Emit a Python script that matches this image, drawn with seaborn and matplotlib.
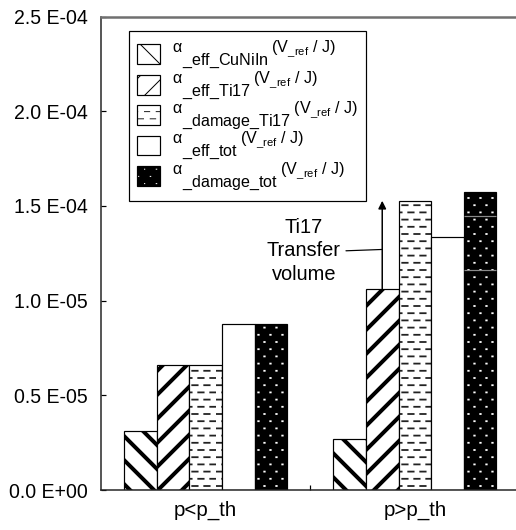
import numpy as np
import pandas as pd
import matplotlib
matplotlib.use("Agg")
import matplotlib.pyplot as plt
import matplotlib.hatch as mhatch
from matplotlib.path import Path
from matplotlib.colors import to_rgba
import seaborn as sns

# values in units of 1E-04
categories = ["p<p_th", "p>p_th"]
series = ["eff_CuNiIn", "eff_Ti17", "damage_Ti17", "eff_tot", "damage_tot"]
alpha_eff_CuNiIn = [0.313, 0.270]
alpha_eff_Ti17 = [0.661, 1.061]
alpha_damage_Ti17 = [0.661, 1.527]
alpha_eff_tot = [0.876, 1.336]
alpha_damage_tot = [0.876, 1.575]
damage_tot_marks = [1.163, 1.448]  # thin grey lines inside the p>p_th damage_tot bar
y_ticks = [0.0, 0.5, 1.0, 1.5, 2.0, 2.5]
y_ticklabels = ["0.0 E+00", "0.5 E-05", "1.0 E-05", "1.5 E-04", "2.0 E-04", "2.5 E-04"]

df = pd.DataFrame({
    "category": categories * len(series),
    "series": np.repeat(series, len(categories)),
    "value": alpha_eff_CuNiIn + alpha_eff_Ti17 + alpha_damage_Ti17 + alpha_eff_tot + alpha_damage_tot,
})


# staggered dash / dot fill patterns (Excel style), registered as hatch types
class StaggeredMarks(mhatch.HatchPatternBase):
    char, rows, cols, length = "O", 10, 6, 0.45

    def __init__(self, hatch, density):
        self.num_vertices = 2 * self.rows * self.cols if self.char in hatch else 0

    def set_vertices_and_codes(self, vertices, codes):
        k = 0
        for r in range(self.rows):
            y = (r + 0.5) / self.rows
            shift = 0.5 / self.cols if r % 2 else 0.0
            for c in range(self.cols):
                x0 = c / self.cols + shift + 0.02 / self.cols
                vertices[k] = (x0, y)
                vertices[k + 1] = (x0 + self.length / self.cols, y)
                codes[k] = Path.MOVETO
                codes[k + 1] = Path.LINETO
                k += 2


class Dashes(StaggeredMarks):
    char, length = "O", 0.45


class Dots(StaggeredMarks):
    char, length = "o", 0.04


mhatch._hatch_types = [t for t in mhatch._hatch_types
                       if t not in (mhatch.SmallCircles, mhatch.LargeCircles)] + [Dashes, Dots]

plt.rcParams["font.family"] = "Liberation Sans"
plt.rcParams["mathtext.fontset"] = "custom"
plt.rcParams["mathtext.rm"] = "Liberation Sans"
plt.rcParams["mathtext.it"] = "Liberation Sans:italic"
plt.rcParams["mathtext.bf"] = "Liberation Sans:bold"

fig = plt.figure(figsize=(516 / 72, 530 / 72), dpi=72)
ax = fig.add_axes([101 / 516, 40 / 530, 418.5 / 516, 473.5 / 530])

face = {"eff_CuNiIn": "white", "eff_Ti17": "white", "damage_Ti17": "white",
        "eff_tot": "white", "damage_tot": "black"}
sns.barplot(data=df, x="category", y="value", hue="series", hue_order=series,
            order=categories, palette=face, saturation=1, width=0.78,
            edgecolor="black", linewidth=1.2, legend=False, ax=ax)

# hatch, hatch colour, hatch linewidth per series
styles = {"eff_CuNiIn": ("\\", "black", 4.0), "eff_Ti17": ("/", "black", 4.0),
          "damage_Ti17": ("O", "#222222", 1.8), "eff_tot": ("", "black", 1.0),
          "damage_tot": ("o", "white", 1.8)}
for name, cont in zip(series, ax.containers):
    h, hc, hlw = styles[name]
    for p in cont.patches:
        p.set_hatch(h)
        if hasattr(p, "set_hatchcolor"):
            p.set_hatchcolor(hc)
        else:
            p._hatch_color = to_rgba(hc)
        if hasattr(p, "set_hatch_linewidth"):
            p.set_hatch_linewidth(hlw)
        else:
            p._hatch_linewidth = hlw

# grey lines inside the second damage_tot bar
bar = ax.containers[4].patches[1]
ax.hlines(damage_tot_marks, bar.get_x() + 1e-3, bar.get_x() + bar.get_width() - 1e-3,
          colors="#8a8a8a", linewidth=1.2, zorder=3)

# Ti17 transfer volume arrow
ti17 = ax.containers[1].patches[1]
xa = ti17.get_x() + ti17.get_width() / 2
ax.annotate("", xy=(xa, alpha_damage_Ti17[1]), xytext=(xa, alpha_eff_Ti17[1]),
            arrowprops=dict(arrowstyle="-|>", color="black", lw=1.5,
                            mutation_scale=16, shrinkA=0, shrinkB=0))
ax.annotate("Ti17\nTransfer\nvolume", xy=(xa, 1.27), xytext=(0.47, 1.262),
            ha="center", va="center", fontsize=20, linespacing=1.28,
            arrowprops=dict(arrowstyle="-", color="black", lw=1.2,
                            relpos=(1, 0.5), shrinkA=3, shrinkB=0))

ax.set_xlim(-0.5, 1.5)
ax.set_ylim(0, 2.5)
ax.set_yticks(y_ticks)
ax.set_yticklabels(y_ticklabels)
ax.set_xticks([0, 1])
ax.set_xticklabels(categories)
ax.set_xticks([0.5], minor=True)
ax.tick_params(axis="y", direction="in", length=5, width=1.2, pad=13, labelsize=19.5)
ax.tick_params(axis="x", which="major", length=0, pad=11, labelsize=20.5)
ax.tick_params(axis="x", which="minor", direction="in", length=5, width=1.2)
ax.set_xlabel("")
ax.set_ylabel("")
for s in ["left", "bottom"]:
    ax.spines[s].set_color("#222222")
    ax.spines[s].set_linewidth(1.5)
ax.spines["top"].set_color("#707070")
ax.spines["top"].set_linewidth(2.5)
ax.spines["right"].set_visible(False)


def legend_label(sub):
    sub = sub.replace("_", r"\_")
    return (r"${}^{\mathrm{\alpha}}{}_{\mathrm{\_" + sub + r"}}\,{}^{(\mathrm{V}_{\mathrm{\_ref}}"
            r"\ /\ \mathrm{J})}$")


leg = ax.legend(handles=ax.containers, labels=[legend_label(s) for s in series],
                loc="upper left", bbox_to_anchor=(0.067, 0.970), borderaxespad=0,
                fontsize=23, frameon=True, fancybox=False, framealpha=1,
                edgecolor="black", handlelength=1.0, handleheight=0.95,
                handletextpad=0.5, labelspacing=-0.085, borderpad=0.35)
leg.get_frame().set_linewidth(1.2)

plt.savefig("out.png", dpi=72)
